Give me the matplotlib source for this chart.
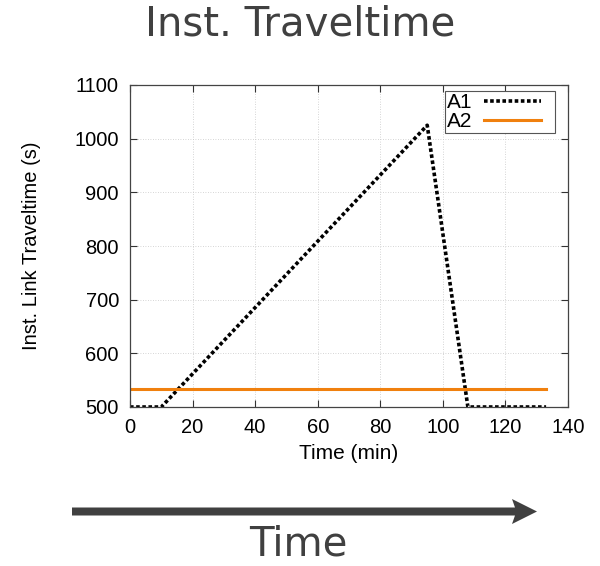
import matplotlib
matplotlib.use("Agg")
import numpy as np
import matplotlib.pyplot as plt
from matplotlib.patches import FancyArrow
from matplotlib.legend_handler import HandlerLine2D
from matplotlib.lines import Line2D

# Instantaneous link travel time for the two routes (minutes -> seconds)
a1_time = [0, 10, 95, 108, 133]
a1_value = [500, 500, 1025, 500, 500]
a2_time = [0, 133]
a2_value = [533, 533]

x_ticks = [0, 20, 40, 60, 80, 100, 120, 140]
y_ticks = [500, 600, 700, 800, 900, 1000, 1100]


class ShortLineHandler(HandlerLine2D):
    """Legend line that leaves a gap before the right edge of the key box."""

    def __init__(self, gap=8.5, **kw):
        super().__init__(**kw)
        self.gap = gap

    def create_artists(self, legend, orig_handle, xdescent, ydescent,
                       width, height, fontsize, trans):
        artists = super().create_artists(legend, orig_handle, xdescent, ydescent,
                                         width, height, fontsize, trans)
        for a in artists:
            if isinstance(a, Line2D):
                xd = np.asarray(a.get_xdata(), dtype=float)
                if len(xd) >= 2:
                    xd = np.linspace(xd[0], xd[-1] - self.gap, len(xd))
                    a.set_xdata(xd)
        return artists


fig = plt.figure(figsize=(6.0, 5.66), dpi=100)
W, H = 600, 566

ax = fig.add_axes([130 / W, 1 - 407 / H, (568 - 130) / W, (407 - 85) / H])
l1, = ax.plot(a1_time, a1_value, color="black", linestyle=(0, (1.0, 0.7)),
              linewidth=2.6, label="A1")
l2, = ax.plot(a2_time, a2_value, color="#f0800e", linestyle="-", linewidth=2.2, label="A2")

ax.set_xlim(0, 140)
ax.set_ylim(500, 1100)
ax.set_xticks(x_ticks)
ax.set_yticks(y_ticks)
ax.tick_params(direction="in", top=True, right=True, length=5, width=0.8,
               labelsize=14.5, color="#333333", pad=8)
for lab in ax.get_xticklabels() + ax.get_yticklabels():
    lab.set_family("Liberation Sans")
ax.grid(True, linestyle=(0, (1, 2)), color="#c8c8c8", linewidth=0.6)
for s in ax.spines.values():
    s.set_color("#444444")
    s.set_linewidth(0.9)

ax.set_xlabel("Time (min)", fontsize=15, family="Liberation Sans", labelpad=5)
ax.set_ylabel("Inst. Link Traveltime (s)", fontsize=14.5, family="Liberation Sans",
              labelpad=24)

handler = ShortLineHandler(gap=8.5)
leg = ax.legend(handles=[l1, l2], loc="upper right", bbox_to_anchor=(555 / W, 1 - 91 / H),
                bbox_transform=fig.transFigure, markerfirst=False, fancybox=False,
                framealpha=1, edgecolor="#555555",
                prop={"family": "Liberation Sans", "size": 15},
                handlelength=3.3, borderpad=0.1, labelspacing=0.0, handletextpad=0.55,
                borderaxespad=0.0,
                handler_map={l1: handler, l2: handler})
leg.get_frame().set_linewidth(0.8)

fig.text(300 / W, 1 - 24 / H, "Inst. Traveltime", ha="center", va="center",
         fontsize=29, color="#404040", family="DejaVu Sans")

arrow = FancyArrow(72 / W, 1 - 511.5 / H, (537 - 72) / W, 0, width=8 / H,
                   head_width=25 / H, head_length=25 / W, overhang=0.12,
                   length_includes_head=True,
                   transform=fig.transFigure, color="#404040", linewidth=0)
fig.patches.append(arrow)

fig.text(298 / W, 1 - 545 / H, "Time", ha="center", va="center",
         fontsize=29, color="#404040", family="DejaVu Sans")

fig.savefig("out.png", dpi=100, facecolor="white")
